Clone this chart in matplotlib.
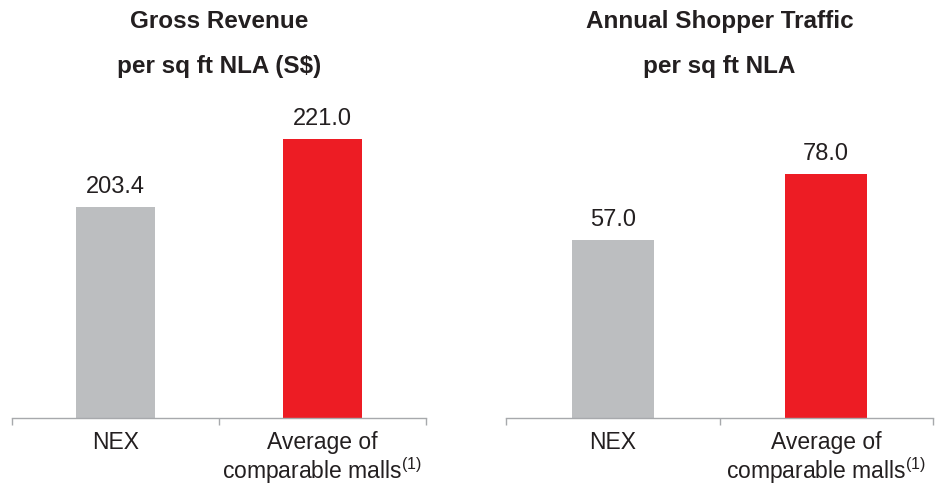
import matplotlib
matplotlib.use("Agg")
import matplotlib.pyplot as plt

plt.rcParams["font.family"] = ["Liberation Sans", "DejaVu Sans"]
plt.rcParams["mathtext.fontset"] = "custom"
plt.rcParams["mathtext.rm"] = "Liberation Sans"
plt.rcParams["mathtext.it"] = "Liberation Sans"

categories = ["NEX", "Average of\ncomparable malls$^{(1)}$"]
revenue = [203.4, 221.0]
traffic = [57.0, 78.0]
titles = ["Gross Revenue\nper sq ft NLA (S$)", "Annual Shopper Traffic\nper sq ft NLA"]

bar_colors = ["#bcbec0", "#ed1c24"]
text_color = "#231f20"
axis_color = "#a7a9ac"

fig = plt.figure(figsize=(9.41, 4.86), dpi=100)

# axes placed in pixel terms of the 941x486 canvas
panels = [
    (12, 414, revenue, (148.8, 231.1), titles[0], 0.38),
    (506, 427, traffic, (0.4, 101.6), titles[1], 0.385),
]

for left_px, width_px, values, ylim, title, bw in panels:
    ax = fig.add_axes([left_px / 941, 68 / 486, width_px / 941, 318 / 486])
    x = range(len(values))
    ax.bar(x, values, width=bw, color=bar_colors)
    ax.set_xlim(-0.5, 1.5)
    ax.set_ylim(*ylim)
    for xi, v in zip(x, values):
        ax.text(xi, v + (ylim[1] - ylim[0]) * 0.028, f"{v:.1f}", ha="center", va="bottom",
                fontsize=17, color=text_color)
    for s in ["top", "right", "left"]:
        ax.spines[s].set_visible(False)
    ax.spines["bottom"].set_color(axis_color)
    ax.spines["bottom"].set_linewidth(1.0)
    ax.set_yticks([])
    ax.set_xticks(list(x))
    ax.set_xticklabels(categories, fontsize=16.5, color=text_color, linespacing=1.08, va="top")
    ax.set_xticks([-0.5, 0.5, 1.5], minor=True)
    ax.tick_params(axis="x", which="major", length=0, pad=9)
    ax.tick_params(axis="x", which="minor", length=5, width=1.0, color=axis_color, direction="out")
    fig.text((left_px + width_px / 2) / 941, 1 - 44 / 486, title, ha="center", va="center",
             fontsize=17.5, fontweight="bold", color=text_color, linespacing=2.2)

fig.savefig("out.png", dpi=100)
